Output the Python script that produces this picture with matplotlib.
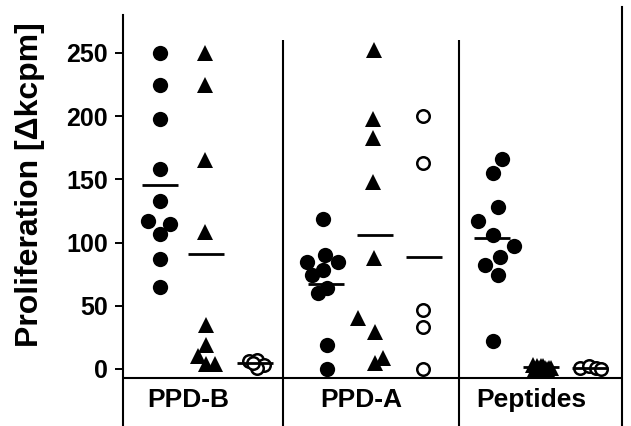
"""Scatter of proliferation responses (PPD-B / PPD-A / Peptides) with group means."""
import matplotlib.pyplot as plt
import numpy as np

plt.rcParams["font.family"] = ["Liberation Sans", "DejaVu Sans"]
plt.rcParams["font.weight"] = "bold"

CATEGORIES = ["PPD-B", "PPD-A", "Peptides"]
YTICKS = [0, 50, 100, 150, 200, 250]

# values (kcpm)
PPDB_FILLED = [250, 225, 198, 158, 133, 117, 115, 107, 87, 65]
PPDB_TRI = [250, 225, 165, 108, 35, 19, 10, 4, 4]
PPDB_OPEN = [6, 7, 3, 1, 5]

PPDA_FILLED = [119, 90, 85, 85, 78, 74, 64, 60, 19, 0]
PPDA_TRI = [252, 198, 183, 148, 88, 40, 29, 9, 5]
PPDA_OPEN = [200, 163, 47, 33, 0]

PEP_FILLED = [166, 155, 128, 117, 106, 97, 89, 82, 74, 22]
PEP_TRI = [3, 2, 2, 1, 1, 0, 0, 1, 2, 1]
PEP_OPEN = [1, 2, 1, 0]

# layout: x in figure pixels, group centres and sideways jitter
W, H = 631, 426
LEFT, RIGHT = 123, 622
SEPARATORS = [283, 459]
LABEL_X = [188, 361, 531]
CENTRES = [[160, 206, 255], [326, 375, 424], [492, 541, 590]]
JITTER = {
    (0, 0): [0, 0, 0, 0, 0, -12, 10, 0, 0, 0],
    (0, 1): [-1, -1, -1, -1, 0, 0, -8, 0, 9],
    (0, 2): [-6, 2, 9, 2, -2],
    (1, 0): [-3, -1, -19, 12, -3, -14, 1, -8, 1, 1],
    (1, 1): [-1, -2, -2, -2, -1, -17, 0, 8, 0],
    (1, 2): [-1, -1, -1, -1, -1],
    (2, 0): [10, 1, 6, -14, 1, 22, 8, -7, 6, 1],
    (2, 1): [-8, -4, 0, 4, 8, -6, 6, -2, 2, 10],
    (2, 2): [-10, -1, 6, 11],
}

PX = 1.264            # pixels per kcpm
Y0_PX = 369           # pixel row of value 0


def val(py):
    return (Y0_PX - py) / PX


def main():
    fig = plt.figure(figsize=(W / 100, H / 100), dpi=100)
    ax = fig.add_axes([LEFT / W, 0, (RIGHT - LEFT) / W, 1])
    ax.set_xlim(LEFT, RIGHT)
    ax.set_ylim(val(H), val(0))

    groups = [
        (PPDB_FILLED, PPDB_TRI, PPDB_OPEN),
        (PPDA_FILLED, PPDA_TRI, PPDA_OPEN),
        (PEP_FILLED, PEP_TRI, PEP_OPEN),
    ]
    styles = [
        dict(marker="o", ms=11, mfc="black", mec="black", mew=0),
        dict(marker="^", ms=11, mfc="black", mec="black", mew=0),
        dict(marker="o", ms=9, mfc="white", mec="black", mew=1.8),
    ]
    for gi, series in enumerate(groups):
        for si, values in enumerate(series):
            c = CENTRES[gi][si]
            xs = c + np.array(JITTER[(gi, si)])
            ax.plot(xs, values, ls="none", zorder=3, **styles[si])
            ax.hlines(np.mean(values), c - 18, c + 18, color="black", lw=2, zorder=4)

    # frame pieces
    bottom = val(H)
    ax.spines[["top", "bottom"]].set_visible(False)
    for side in ("left", "right"):
        ax.spines[side].set_linewidth(1.5)
    ax.spines["left"].set_bounds(bottom, val(15))
    ax.spines["right"].set_bounds(bottom, val(7))
    ax.vlines(SEPARATORS, bottom, val(40), color="black", lw=1.5)
    ax.axhline(val(378), color="black", lw=1.5)

    ax.set_yticks(YTICKS)
    ax.set_yticklabels([str(t) for t in YTICKS], fontsize=18, fontweight="bold")
    ax.tick_params(axis="y", length=6, width=1.4, pad=5, right=False)
    ax.set_xticks([])

    for x, name in zip(LABEL_X, CATEGORIES):
        ax.text(x, val(400), name, ha="center", va="center", fontsize=19, fontweight="bold")

    fig.text(30 / W, 1 - 185 / H, "Proliferation [\u0394kcpm]", rotation=90,
             ha="center", va="center", fontsize=23, fontweight="bold")

    fig.savefig("out.png", dpi=100, facecolor="white")


if __name__ == "__main__":
    main()
